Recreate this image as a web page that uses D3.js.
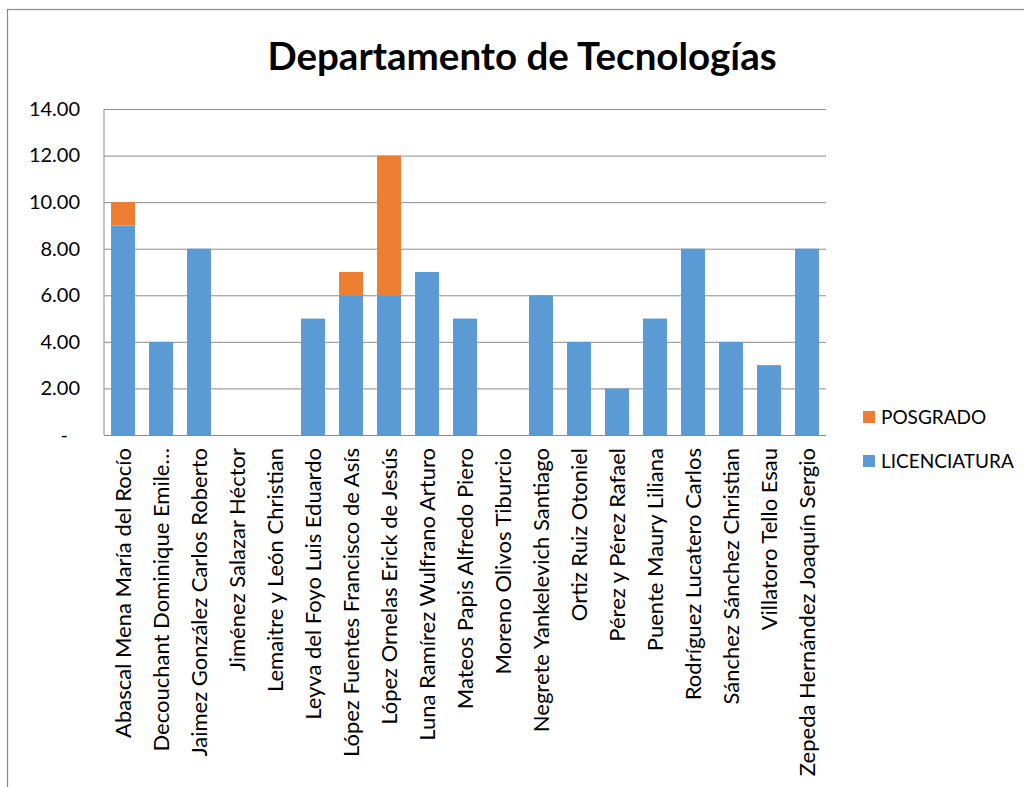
<!DOCTYPE html>
<html>
<head>
<meta charset="utf-8">
<script src="https://cdn.jsdelivr.net/npm/d3@7"></script>
<style>
  body { margin: 0; background: #fff; }
  .chart text { font-family: Lato, "Open Sans", sans-serif; fill: #000; }
</style>
</head>
<body>
<div class="chart"></div>
<script>
// DATA
var names = [
  'Abascal Mena María del Rocío',
  'Decouchant Dominique Emile…',
  'Jaimez González Carlos Roberto',
  'Jiménez Salazar Héctor',
  'Lemaitre y León Christian',
  'Leyva del Foyo Luis Eduardo',
  'López Fuentes Francisco de Asís',
  'López Ornelas Erick de Jesús',
  'Luna Ramírez Wulfrano Arturo',
  'Mateos Papis Alfredo Piero',
  'Moreno Olivos Tiburcio',
  'Negrete Yankelevich Santiago',
  'Ortiz Ruiz Otoniel',
  'Pérez y Pérez Rafael',
  'Puente Maury Liliana',
  'Rodríguez Lucatero Carlos',
  'Sánchez Sánchez Christian',
  'Villatoro Tello Esau',
  'Zepeda Hernández Joaquín Sergio'
];
var licenciatura = [9, 4, 8, 0, 0, 5, 6, 6, 7, 5, 0, 6, 4, 2, 5, 8, 4, 3, 8];
var posgrado     = [1, 0, 0, 0, 0, 0, 1, 6, 0, 0, 0, 0, 0, 0, 0, 0, 0, 0, 0];
var yTicks = [0, 2, 4, 6, 8, 10, 12, 14];
var seriesNames = ['LICENCIATURA', 'POSGRADO'];
var colors = ['#5b9bd5', '#ed7d31'];

var width = 1024,
    height = 787,
    plot = {left: 104, right: 826, top: 109, bottom: 435};

var svg = d3.select('.chart')
  .append('svg')
  .attr('width', width)
  .attr('height', height);

// outer chart frame (cut by the screenshot on right and bottom)
svg.append('rect')
  .attr('x', 7.5)
  .attr('y', 9.5)
  .attr('width', 1040)
  .attr('height', 800)
  .attr('fill', 'none')
  .attr('stroke', '#8a8a8a')
  .attr('stroke-width', 1.2);

// TITLE
svg.append('text')
  .attr('x', 522)
  .attr('y', 70)
  .attr('text-anchor', 'middle')
  .style('font-size', '38.5px')
  .style('font-weight', 'bold')
  .text('Departamento de Tecnologías');

var dataset = names.map((n, i) => ({name: n, LICENCIATURA: licenciatura[i], POSGRADO: posgrado[i]}));
var stacked = d3.stack().keys(seriesNames)(dataset);

// SCALES
var xScale = d3.scaleBand()
  .domain(names)
  .range([plot.left, plot.right])
  .paddingInner(0.37)
  .paddingOuter(0.185);

var yScale = d3.scaleLinear()
  .domain([0, 14])
  .range([plot.bottom, plot.top]);

// GRIDLINES + Y AXIS
var yAxis = d3.axisLeft(yScale)
  .tickValues(yTicks)
  .tickSize(-(plot.right - plot.left))
  .tickPadding(24)
  .tickFormat((d) => d === 0 ? '-' : d3.format('.2f')(d));

var yg = svg.append('g')
  .attr('transform', 'translate(' + plot.left + ',0)')
  .call(yAxis);
yg.select('.domain').remove();
yg.selectAll('line').attr('stroke', '#8c8c8c').attr('stroke-width', 1);
yg.selectAll('text').style('font-size', '20px');
yg.selectAll('.tick').filter((d) => d === 0).select('text').attr('dx', -12);

// BARS
svg.append('g')
  .selectAll('g')
  .data(stacked)
  .enter()
  .append('g')
  .attr('fill', (d, i) => colors[i])
  .selectAll('rect')
  .data((d) => d)
  .enter()
  .append('rect')
  .attr('x', (d) => xScale(d.data.name))
  .attr('y', (d) => yScale(d[1]))
  .attr('width', xScale.bandwidth())
  .attr('height', (d) => yScale(d[0]) - yScale(d[1]));

// plot area left / bottom edges
svg.append('line')
  .attr('x1', plot.left).attr('x2', plot.left)
  .attr('y1', plot.top).attr('y2', plot.bottom)
  .attr('stroke', '#8c8c8c');
svg.append('line')
  .attr('x1', plot.left).attr('x2', plot.right)
  .attr('y1', plot.bottom + 0.5).attr('y2', plot.bottom + 0.5)
  .attr('stroke', '#8c8c8c');

// X AXIS LABELS (rotated)
var xAxis = d3.axisBottom(xScale).tickSize(0).tickPadding(0);
var xg = svg.append('g')
  .attr('transform', 'translate(0,' + plot.bottom + ')')
  .call(xAxis);
xg.select('.domain').remove();
xg.selectAll('text')
  .style('font-size', '22px')
  .attr('text-anchor', 'end')
  .attr('transform', 'rotate(-90)')
  .attr('x', -13)
  .attr('y', 0)
  .attr('dy', '0.35em');

// LEGEND
var legendItems = [
  {label: 'POSGRADO', color: colors[1], y: 417},
  {label: 'LICENCIATURA', color: colors[0], y: 461}
];
var legend = svg.append('g')
  .selectAll('g')
  .data(legendItems)
  .enter()
  .append('g')
  .attr('transform', (d) => 'translate(863,' + d.y + ')');
legend.append('rect')
  .attr('x', 0)
  .attr('y', -6)
  .attr('width', 12)
  .attr('height', 12)
  .attr('fill', (d) => d.color);
legend.append('text')
  .attr('x', 18)
  .attr('dy', '0.35em')
  .style('font-size', '19px')
  .text((d) => d.label);
</script>
</body>
</html>
